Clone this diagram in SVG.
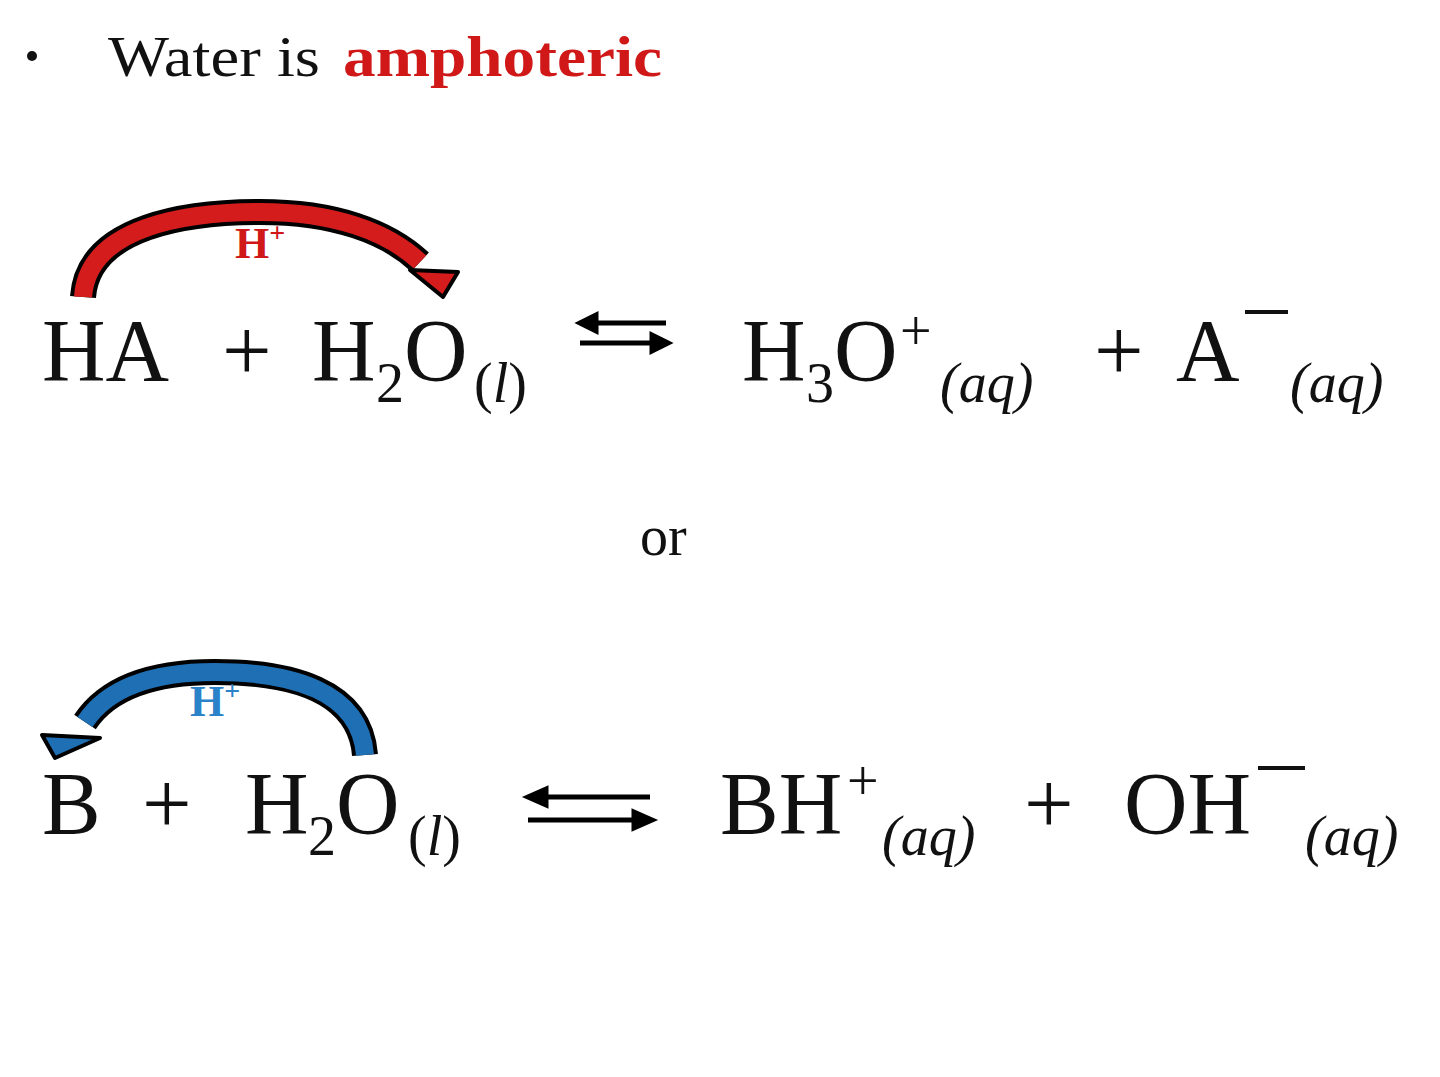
<svg xmlns="http://www.w3.org/2000/svg" width="1440" height="1077" viewBox="0 0 1440 1077">
<style>
.t{font-family:"Liberation Serif",serif;fill:#111}
.b{font-size:88px}.s{font-size:56px}.i{font-style:italic}
.ol{stroke:#000;stroke-width:26;fill:none}
</style>
<rect width="1440" height="1077" fill="#fff"/>
<g id="title">
<circle cx="32" cy="56" r="5" fill="#111"/>
<text class="t" x="108" y="76" font-size="58" textLength="212" lengthAdjust="spacingAndGlyphs">Water is</text>
<text x="343" y="76" font-family="Liberation Serif,serif" font-size="58" fill="#d01818" font-weight="bold" textLength="319" lengthAdjust="spacingAndGlyphs">amphoteric</text>
</g>
<g id="connectors">
<path class="ol" d="M83,297 C88,225 190,212 260,212 C335,212 388,232 420,262"/>
<path d="M83,297 C88,225 190,212 260,212 C335,212 388,232 420,262" stroke="#d41c1c" stroke-width="18" fill="none"/>
<polygon points="443,297 410,270 458,272" fill="#d41c1c" stroke="#000" stroke-width="4" stroke-linejoin="round"/>
<path class="ol" d="M365,755 C360,690 290,672 215,672 C145,672 105,692 85,722"/>
<path d="M365,755 C360,690 290,672 215,672 C145,672 105,692 85,722" stroke="#1f6fb4" stroke-width="18" fill="none"/>
<polygon points="55,758 42,735 100,738" fill="#1f6fb4" stroke="#000" stroke-width="4" stroke-linejoin="round"/>
<g stroke="#000" stroke-width="5" fill="#000">
<line x1="592" y1="323" x2="666" y2="323"/><polygon points="580,323 596,315 596,331"/>
<line x1="580" y1="343" x2="654" y2="343"/><polygon points="668,343 652,335 652,351"/>
<line x1="542" y1="797" x2="650" y2="797"/><polygon points="528,797 546,789 546,805"/>
<line x1="528" y1="820" x2="636" y2="820"/><polygon points="652,820 634,812 634,828"/>
</g>
</g>
<g id="labels">
<text x="235" y="258" font-family="Liberation Serif,serif" font-weight="bold" font-size="44" fill="#d01818">H<tspan font-size="28" dy="-16">+</tspan></text>
<text x="190" y="716" font-family="Liberation Serif,serif" font-weight="bold" font-size="44" fill="#2a82c8">H<tspan font-size="28" dy="-16">+</tspan></text>
</g>
<g id="eq1">
<text class="t b" x="42" y="380">HA</text>
<text class="t b" x="222" y="380">+</text>
<text class="t b" x="312" y="380">H</text><text class="t s" x="376" y="402">2</text><text class="t b" x="404" y="380">O</text>
<text class="t s" x="474" y="402">(<tspan class="i">l</tspan>)</text>
<text class="t b" x="742" y="380">H</text><text class="t s" x="806" y="402">3</text><text class="t b" x="834" y="380">O</text><text class="t s" x="900" y="350">+</text>
<text class="t s i" x="940" y="402">(aq)</text>
<text class="t b" x="1094" y="380">+</text>
<text class="t b" x="1176" y="380">A</text>
<line x1="1245" y1="312" x2="1288" y2="312" stroke="#111" stroke-width="4"/>
<text class="t s i" x="1290" y="402">(aq)</text>
</g>
<g id="or"><text class="t" x="640" y="555" font-size="56">or</text></g>
<g id="eq2">
<text class="t b" x="42" y="833">B</text>
<text class="t b" x="142" y="833">+</text>
<text class="t b" x="245" y="833">H</text><text class="t s" x="308" y="855">2</text><text class="t b" x="336" y="833">O</text>
<text class="t s" x="408" y="855">(<tspan class="i">l</tspan>)</text>
<text class="t b" x="720" y="833">BH</text><text class="t s" x="847" y="800">+</text>
<text class="t s i" x="882" y="855">(aq)</text>
<text class="t b" x="1024" y="833">+</text>
<text class="t b" x="1124" y="833">OH</text>
<line x1="1258" y1="768" x2="1305" y2="768" stroke="#111" stroke-width="4"/>
<text class="t s i" x="1305" y="855">(aq)</text>
</g>
</svg>
